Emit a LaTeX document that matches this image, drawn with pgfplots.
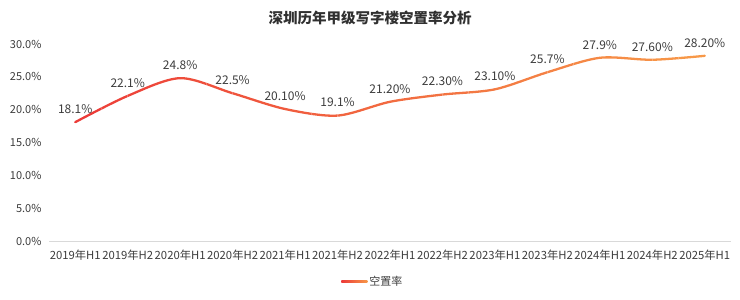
\documentclass[border=0pt]{standalone}
\usepackage{fontspec}
\setmainfont{Noto Sans CJK SC}
\usepackage{pgfplots}
\usepackage{pgfplotstable}
\pgfplotsset{compat=1.18}
\definecolor{cL}{RGB}{236,58,56}
\definecolor{cR}{RGB}{247,152,72}
\definecolor{txt}{RGB}{60,60,60}
\definecolor{axgray}{RGB}{217,217,217}

\pgfplotstableread{
x y lab
0 18.1 18.1
1 22.1 22.1
2 24.8 24.8
3 22.5 22.5
4 20.1 20.10
5 19.1 19.1
6 21.2 21.20
7 22.3 22.30
8 23.1 23.10
9 25.7 25.7
10 27.9 27.9
11 27.6 27.60
12 28.2 28.20
}\datatable

\newcommand\band[3]{%
  \begin{scope}
  \clip (axis cs:#1,-5) rectangle (axis cs:#2,40);
  \addplot[forget plot, smooth, line width=2.3pt, line cap=round, color=cR!#3!cL] table[x=x,y=y] {\datatable};
  \end{scope}}

\begin{document}
\begin{tikzpicture}
\useasboundingbox (0,0) rectangle (740bp,300bp);
\node[font=\fontsize{14.5bp}{16bp}\selectfont\bfseries, text=txt!80!black] at (370bp,282bp) {深圳历年甲级写字楼空置率分析};
\begin{axis}[
  at={(49bp,59bp)}, anchor=south west,
  scale only axis, width=682bp, height=197bp,
  xmin=-0.5, xmax=12.5, ymin=0, ymax=30,
  clip=false,
  axis lines*=left,
  x axis line style={draw=axgray, line width=0.8pt, -},
  y axis line style={draw=none},
  tick style={draw=none},
  xtick={0,...,12},
  xticklabels={2019年H1,2019年H2,2020年H1,2020年H2,2021年H1,2021年H2,2022年H1,2022年H2,2023年H1,2023年H2,2024年H1,2024年H2,2025年H1},
  ytick={0,5,...,30},
  yticklabel={\pgfmathprintnumber[fixed,fixed zerofill,precision=1]{\tick}\%},
  /pgf/number format/assume math mode=true,
  xticklabel style={font=\fontsize{11.3bp}{13bp}\selectfont, text=txt, yshift=-5bp},
  yticklabel style={font=\fontsize{11bp}{13bp}\selectfont, text=txt, xshift=-4bp},
  legend style={at={(axis description cs:0.475,-0.205)}, anchor=center, draw=none, fill=none,
     font=\fontsize{11bp}{13bp}\selectfont, text=txt},
  legend image code/.code={\shade[left color=cL, right color=cR] (0bp,-1.3bp) rectangle (26bp,1.3bp);},
]
\band{-0.5}{0.5}{2}
\band{0.5}{1.0}{8}
\band{1.0}{1.5}{12}
\band{1.5}{2.0}{17}
\band{2.0}{2.5}{21}
\band{2.5}{3.0}{25}
\band{3.0}{3.5}{29}
\band{3.5}{4.0}{33}
\band{4.0}{4.5}{37}
\band{4.5}{5.0}{42}
\band{5.0}{5.5}{46}
\band{5.5}{6.0}{50}
\band{6.0}{6.5}{54}
\band{6.5}{7.0}{58}
\band{7.0}{7.5}{62}
\band{7.5}{8.0}{67}
\band{8.0}{8.5}{71}
\band{8.5}{9.0}{75}
\band{9.0}{9.5}{79}
\band{9.5}{10.0}{83}
\band{10.0}{10.5}{87}
\band{10.5}{11.0}{92}
\band{11.0}{11.5}{96}
\band{11.5}{12.6}{100}
\addplot[draw=none, mark=none, point meta=explicit symbolic,
  nodes near coords={\pgfplotspointmeta\%},
  nodes near coords style={font=\fontsize{12bp}{14bp}\selectfont, text=txt, anchor=south, yshift=5bp}]
  table[x=x,y=y,meta=lab] {\datatable};
\addlegendimage{empty legend}
\addlegendentry{空置率}
\end{axis}
\end{tikzpicture}
\end{document}
